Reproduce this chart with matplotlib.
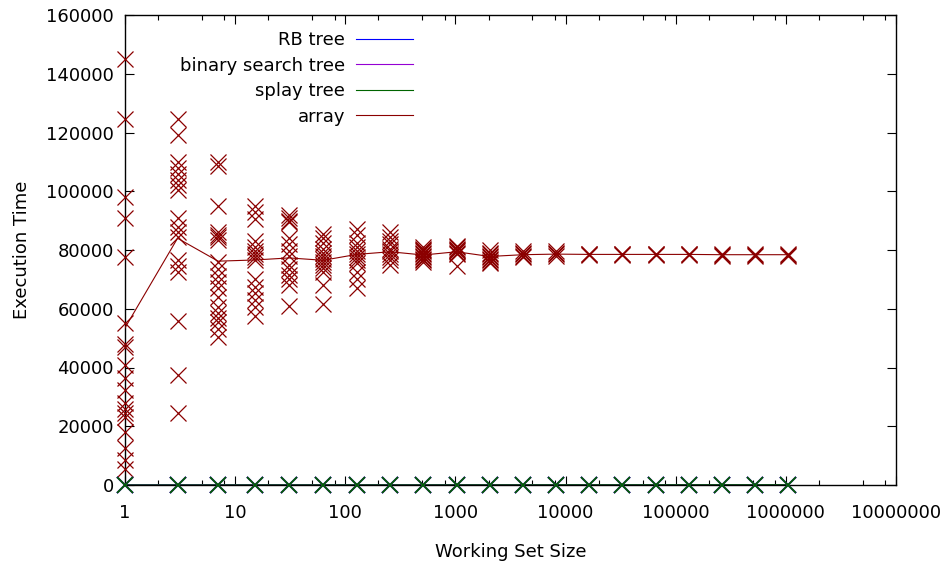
import matplotlib
matplotlib.use("Agg")
import matplotlib.pyplot as plt
from matplotlib.ticker import LogLocator, FixedLocator, FuncFormatter, NullFormatter

# ---------------- data ----------------
working_set_sizes = [1, 3, 7, 15, 31, 63, 127, 255, 511, 1023, 2047, 4095,
                     8191, 16383, 32767, 65535, 131071, 262143, 524287, 1048575]

series_labels = ["RB tree", "binary search tree", "splay tree", "array"]

# near-zero series (one value per working set size)
rb_tree_time = [40, 45, 50, 55, 55, 60, 60, 65, 70, 70,
                75, 80, 80, 85, 90, 95, 100, 105, 110, 115]
bst_time = [35, 40, 50, 50, 55, 60, 65, 65, 70, 75,
            80, 85, 85, 90, 95, 100, 105, 110, 115, 120]
splay_time = [30, 35, 40, 45, 50, 50, 55, 60, 60, 65,
              70, 70, 75, 80, 80, 85, 90, 95, 95, 100]

# array: individual runs per working set size
array_ws1 = [145000, 124500, 98000, 91000, 77500, 55000, 48000, 47000, 41000, 36500,
             32500, 28000, 26000, 24500, 23000, 18000, 12500, 8500, 5500]
array_ws3 = [124500, 119000, 110000, 108000, 106000, 104000, 102000, 100500, 91000,
             88000, 86000, 84500, 76500, 74500, 72500, 56000, 37500, 24500]
array_ws7 = [110000, 108500, 95000, 86000, 85000, 84500, 83500, 76000, 73500, 71000,
             69000, 67000, 64000, 60500, 58500, 57000, 55500, 53000, 50500]
array_ws15 = [95000, 93000, 90500, 83000, 81000, 79500, 78500, 77500, 76500, 70000,
              67500, 65500, 63000, 60500, 57500]
array_ws31 = [92000, 91000, 90000, 89500, 84000, 82000, 79500, 78000, 75000, 73500,
              71500, 70000, 68000, 61000]
array_ws63 = [85500, 84000, 82500, 80500, 79000, 78000, 77000, 76000, 75000, 74000,
              72500, 68000, 61500]
array_ws127 = [87000, 85000, 82500, 81000, 79500, 78500, 77500, 76500, 75500, 72500,
               70000, 67000]
array_ws255 = [86000, 84500, 83000, 82000, 80500, 79500, 78500, 77500, 76500, 75000]
array_ws511 = [81000, 80500, 80000, 79500, 79000, 78500, 78000, 77500, 77000, 76500, 76000]
array_ws1023 = [81500, 81000, 80500, 80000, 79500, 79000, 78500, 74500]
array_ws2047 = [80000, 79000, 78500, 78000, 77500, 77000, 76500, 76000, 75500]
array_ws4095 = [79800, 79000, 78500, 78000, 77500]
array_ws8191 = [79500, 79000, 78500, 78000]
array_ws16383 = [78800, 78500, 78200]
array_ws32767 = [78800, 78500, 78200]
array_ws65535 = [78700, 78500, 78200]
array_ws131071 = [78800, 78500, 78200]
array_ws262143 = [78700, 78400, 78100]
array_ws524287 = [78700, 78400, 78100]
array_ws1048575 = [78700, 78400, 78100]

# array: averaged line
array_mean = [53500, 84000, 76200, 76600, 77300, 76500, 78500, 79400, 78300, 79400,
              77800, 78400, 78600, 78500, 78500, 78500, 78500, 78400, 78400, 78400]

yticks = [0, 20000, 40000, 60000, 80000, 100000, 120000, 140000, 160000]
xticks = [1, 10, 100, 1000, 10000, 100000, 1000000, 10000000]

array_runs = [array_ws1, array_ws3, array_ws7, array_ws15, array_ws31, array_ws63,
              array_ws127, array_ws255, array_ws511, array_ws1023, array_ws2047,
              array_ws4095, array_ws8191, array_ws16383, array_ws32767, array_ws65535,
              array_ws131071, array_ws262143, array_ws524287, array_ws1048575]

# ---------------- style ----------------
plt.rcParams['font.family'] = ['DejaVu Sans']
FS = 13
c_rb, c_bst, c_splay, c_arr = '#0000ff', '#9400d3', '#006400', '#8b0000'

fig = plt.figure(figsize=(9.46, 5.64), dpi=100)
ax = fig.add_axes([125/946, 1 - 485/564, (896 - 125)/946, (485 - 15)/564])

ms = 12
for vals, col, lab in [(rb_tree_time, c_rb, series_labels[0]),
                       (bst_time, c_bst, series_labels[1]),
                       (splay_time, c_splay, series_labels[2])]:
    ax.plot(working_set_sizes, vals, color=col, lw=0.8, label=lab, zorder=2)
    ax.plot(working_set_sizes, vals, ls='none', marker='x', ms=ms, mew=1.3,
            color=col, zorder=4, clip_on=False)

xs, ys = [], []
for size, runs in zip(working_set_sizes, array_runs):
    xs.extend([size] * len(runs))
    ys.extend(runs)
ax.plot(working_set_sizes, array_mean, color=c_arr, lw=0.8, label=series_labels[3], zorder=3)
ax.plot(xs, ys, ls='none', marker='x', ms=ms, mew=0.9, color=c_arr, zorder=3,
        clip_on=False)

ax.set_xscale('log')
ax.set_xlim(1, 1e7)
ax.set_ylim(0, 160000)
ax.xaxis.set_major_locator(FixedLocator(xticks))
ax.xaxis.set_major_formatter(FuncFormatter(lambda v, p: f"{int(round(v))}"))
ax.xaxis.set_minor_locator(LogLocator(base=10, subs=[2, 5, 8]))
ax.xaxis.set_minor_formatter(NullFormatter())
ax.set_yticks(yticks)
ax.yaxis.set_major_formatter(FuncFormatter(lambda v, p: f"{int(v)}"))

ax.tick_params(which='both', direction='in', top=True, right=True, labelsize=FS,
               colors='black')
ax.tick_params(which='major', length=6.5, width=0.8)
ax.tick_params(which='minor', length=3.5, width=0.8)
ax.tick_params(axis='x', pad=13.5)
ax.tick_params(axis='y', pad=8)
for s in ax.spines.values():
    s.set_linewidth(1.0)

ax.set_xlabel("Working Set Size", fontsize=FS, labelpad=15)
ax.set_ylabel("Execution Time", fontsize=FS, labelpad=11)

leg = ax.legend(loc='upper right', bbox_to_anchor=(413/946, 1 - 31/564),
                bbox_transform=fig.transFigure, frameon=False, markerfirst=False,
                fontsize=FS, handlelength=3.15, handletextpad=0.6,
                labelspacing=0.42, borderpad=0, borderaxespad=0)

fig.savefig("out.png", dpi=100)
